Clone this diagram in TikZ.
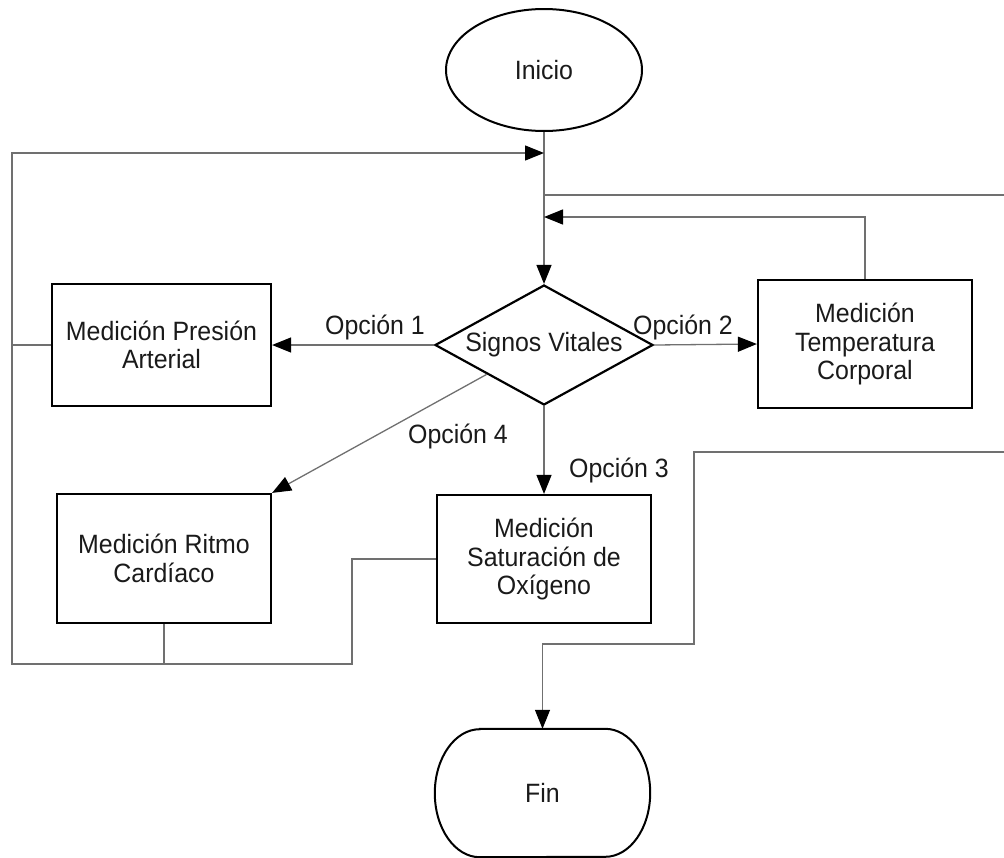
\documentclass[tikz,border=0pt]{standalone}
\usepackage{fontspec}
\setmainfont{Liberation Sans}[FakeStretch=0.94]
\usetikzlibrary{shapes.geometric,arrows.meta,calc}
\definecolor{linegray}{HTML}{707070}
\definecolor{ink}{HTML}{1A1A1A}
\begin{document}
\begin{tikzpicture}[x=1pt,y=-1pt,
  every node/.style={font=\fontsize{26.5pt}{28.5pt}\selectfont, text=ink, align=center},
  proc/.style={draw=black, line width=2.2pt, rectangle, inner sep=0pt},
  conn/.style={draw=linegray, line width=1.3pt},
  tip/.style={-{Triangle[length=19pt,width=15pt,color=black,fill=black]}},
  lbl/.style={inner sep=0pt}]
\useasboundingbox (0,0) rectangle (1004,857);

% terminals and decision
\node[draw, line width=2pt, ellipse, minimum width=196pt, minimum height=122pt, inner sep=0pt] (ini) at (544,70) {Inicio};
\node[draw, line width=2.2pt, diamond, shape aspect=1.8, minimum width=218pt, minimum height=120pt, inner sep=0pt] (sv) at (544,345) {Signos Vitales};

% measurement steps
\node[proc, minimum width=219pt, minimum height=122pt] (pa) at (161.5,345) {Medición Presión\\Arterial};
\node[proc, minimum width=214pt, minimum height=128pt] (tc) at (865,344) {Medición\\Temperatura\\Corporal};
\node[proc, minimum width=214pt, minimum height=128pt] (sat) at (544,559) {Medición\\Saturación de\\Oxígeno};
\node[proc, minimum width=214pt, minimum height=129pt] (rc) at (164,558.5) {Medición Ritmo\\Cardíaco};

% end terminal: flat top and bottom, elliptic sides
\node[minimum width=215pt, minimum height=128pt, inner sep=0pt] (fin) at (542.5,793) {Fin};
\draw[line width=2pt] ($(fin.north west)+(45,0)$) -- ($(fin.north east)+(-45,0)$)
  arc[start angle=90, end angle=-90, x radius=45pt, y radius=64pt]
  -- ($(fin.south west)+(45,0)$)
  arc[start angle=270, end angle=90, x radius=45pt, y radius=64pt] -- cycle;

% option labels
\node[lbl] (o1) at (375,327) {Opción 1};
\node[lbl] (o2) at (683,327) {Opción 2};
\node[lbl] (o3) at (619,470) {Opción 3};
\node[lbl] (o4) at (458,436) {Opción 4};

% loop corners
\coordinate (lt) at (12,153);
\coordinate (lb) at (12,664);
\coordinate (jx) at (352,664);
\coordinate (tr) at (864,217);
\coordinate (rt) at (1004,195);
\coordinate (rr) at (1004,452);
\coordinate (rk) at (694,644);

% main flow
\draw[conn, tip] (ini.south) -- (sv.north);
\draw[conn, tip] (sv.west) -- (pa.east);
\draw[conn, tip] (sv.east) -- (tc.west);
\draw[conn, tip] (sv.south) -- (sat.north);
\draw[conn, tip] ($(sv.west)!0.48!(sv.south)$) -- (rc.north east);

% returns on the left
\draw[conn, tip] (sat.west) -- (jx |- sat.west) -- (jx) -- (lb) -- (lt) -- (lt -| ini);
\draw[conn] (pa.west) -- (pa.west -| lt);
\draw[conn] (rc.south) -- (rc.south |- lb);

% returns on the right
\draw[conn, tip] (tc.north) -- (tc.north |- tr) -- (tr -| ini);
\draw[conn] (rt -| ini) -- (rt);
\draw[conn, tip] (rr) -- (rr -| rk) -- (rk) -- (rk -| fin) -- (fin.north);
\end{tikzpicture}
\end{document}
